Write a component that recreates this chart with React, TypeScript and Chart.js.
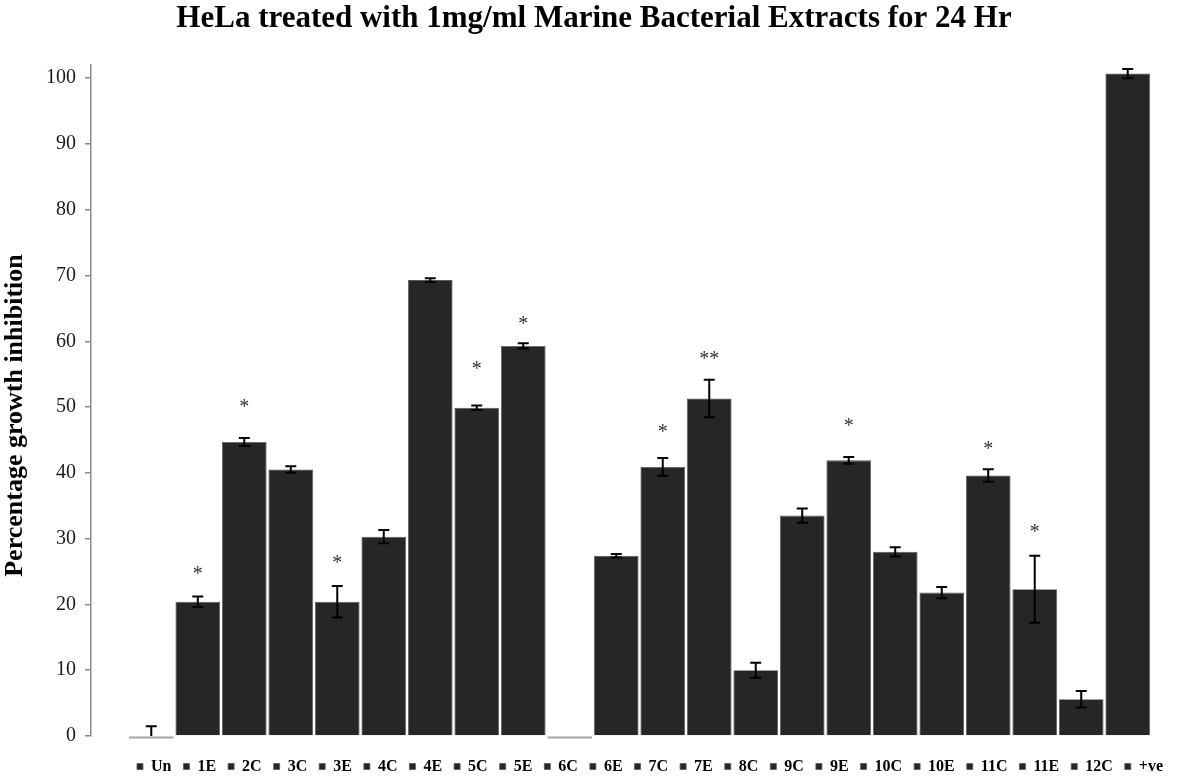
import React, { useEffect, useRef } from 'react';
import { Chart, registerables } from 'chart.js';

Chart.register(...registerables);

const FONT = "'Liberation Serif', 'Times New Roman', serif";

const categories = ['Un', '1E', '2C', '3C', '3E', '4C', '4E', '5C', '5E', '6C', '6E', '7C', '7E', '8C', '9C', '9E', '10C', '10E', '11C', '11E', '12C', '+ve'];
const values = [0, 20.4, 44.7, 40.5, 20.4, 30.3, 69.3, 49.9, 59.3, 0, 27.4, 40.9, 51.3, 10.0, 33.5, 41.9, 28.0, 21.8, 39.6, 22.3, 5.6, 100.7];
const errors = [1.5, 0.8, 0.6, 0.5, 2.4, 1.0, 0.3, 0.35, 0.4, 0, 0.25, 1.35, 2.85, 1.15, 1.1, 0.5, 0.7, 0.85, 0.95, 5.1, 1.25, 0.7];
const marks = ['', '*', '*', '', '*', '', '', '*', '*', '', '', '*', '**', '', '', '*', '', '', '*', '*', '', ''];
const markY = [0, 25.1, 50.5, 0, 26.7, 0, 0, 56.2, 63.1, 0, 0, 46.6, 57.7, 0, 0, 47.5, 0, 0, 44.1, 31.4, 0, 0];
const yMin = 0;
const yMax = 102;
const yStep = 10;
const yTitle = 'Percentage growth inhibition';
const chartTitle = 'HeLa treated with 1mg/ml Marine Bacterial Extracts for 24 Hr';

const BAR_COLOR = '#262626';

const extrasPlugin = {
  id: 'extras',
  afterLayout(chart: any) {
    const lg = chart.legend;
    if (lg) {
      lg.left += 56;
      lg.right += 56;
    }
  },
  afterDraw(chart: any) {
    const ctx = chart.ctx;
    const area = chart.chartArea;
    ctx.save();
    ctx.translate(15, (area.top + area.bottom) / 2 + 15);
    ctx.rotate(-Math.PI / 2);
    ctx.fillStyle = '#000';
    ctx.font = `bold 26px ${FONT}`;
    ctx.textAlign = 'center';
    ctx.textBaseline = 'middle';
    ctx.fillText(yTitle, 0, 0);
    ctx.restore();
  },
  afterDatasetsDraw(chart: any) {
    const ctx = chart.ctx;
    const y = chart.scales.y;
    const area = chart.chartArea;
    ctx.save();
    chart.data.datasets.forEach((ds: any, i: number) => {
      const bar = chart.getDatasetMeta(i).data[0];
      if (!bar) return;
      const v = ds.data[0];
      if (v === 0) {
        const p0 = y.getPixelForValue(0);
        ctx.strokeStyle = '#a6a6a6';
        ctx.lineWidth = 2;
        ctx.beginPath();
        ctx.moveTo(bar.x - bar.width / 2, p0 + 1.5);
        ctx.lineTo(bar.x + bar.width / 2, p0 + 1.5);
        ctx.stroke();
      }
    });
    ctx.beginPath();
    ctx.rect(area.left, area.top, area.right - area.left, area.bottom - area.top);
    ctx.clip();
    ctx.strokeStyle = '#000';
    ctx.lineWidth = 2;
    chart.data.datasets.forEach((ds: any, i: number) => {
      const bar = chart.getDatasetMeta(i).data[0];
      const e = errors[i];
      if (!bar || !e) return;
      const v = ds.data[0];
      const top = y.getPixelForValue(v + e);
      const bot = y.getPixelForValue(v - e);
      const hw = 5.5;
      ctx.beginPath();
      ctx.moveTo(bar.x, top);
      ctx.lineTo(bar.x, bot);
      ctx.moveTo(bar.x - hw, top);
      ctx.lineTo(bar.x + hw, top);
      ctx.moveTo(bar.x - hw, bot);
      ctx.lineTo(bar.x + hw, bot);
      ctx.stroke();
    });
    ctx.restore();
    ctx.save();
    ctx.fillStyle = '#333';
    ctx.font = `20px ${FONT}`;
    ctx.textAlign = 'center';
    ctx.textBaseline = 'middle';
    chart.data.datasets.forEach((ds: any, i: number) => {
      const bar = chart.getDatasetMeta(i).data[0];
      if (!bar || !marks[i]) return;
      ctx.fillText(marks[i], bar.x, y.getPixelForValue(markY[i]) + 3.5);
    });
    ctx.restore();
  },
};

export default function App() {
  const ref = useRef<HTMLCanvasElement | null>(null);
  useEffect(() => {
    document.body.style.margin = '0';
    if (!ref.current) return;
    const chart = new Chart(ref.current, {
      type: 'bar',
      data: {
        labels: [''],
        datasets: categories.map((c, i) => ({
          label: c,
          data: [values[i]],
          backgroundColor: BAR_COLOR,
          borderColor: '#5a5a5a',
          borderWidth: 0.8,
          categoryPercentage: 0.9325,
          barPercentage: 0.96,
        })),
      },
      options: {
        animation: false,
        responsive: true,
        maintainAspectRatio: false,
        layout: { padding: { left: 0, right: 12, top: 0, bottom: -7.5 } },
        plugins: {
          title: {
            display: true,
            text: chartTitle,
            color: '#000',
            font: { family: FONT, size: 31, weight: 'bold' },
            padding: { top: 0, bottom: 27.8 },
          },
          legend: {
            display: true,
            position: 'bottom',
            labels: {
              boxWidth: 6,
              boxHeight: 6,
              padding: 12,
              color: '#000',
              font: { family: FONT, size: 16, weight: 'bold' },
            },
          },
          tooltip: { enabled: false },
        },
        scales: {
          x: {
            display: true,
            ticks: { display: false },
            grid: { display: false },
            border: { display: false },
            afterFit: (s: any) => { s.height = 10.5; },
          },
          y: {
            min: yMin,
            max: yMax,
            afterFit: (s: any) => { s.width = 91; },
            ticks: {
              stepSize: yStep,
              includeBounds: false,
              padding: 9,
              color: '#1a1a1a',
              font: { family: FONT, size: 20 },
            },
            grid: {
              display: true,
              drawOnChartArea: false,
              drawTicks: true,
              tickLength: 6,
              color: '#8c8c8c',
              lineWidth: 1.5,
            },
            border: { display: true, color: '#8c8c8c', width: 1.5 },
            title: { display: false },
          },
        },
      },
      plugins: [extrasPlugin],
    } as any);
    return () => chart.destroy();
  }, []);
  return (
    <div style={{ width: 1200, height: 777, position: 'relative', background: '#fff' }}>
      <canvas ref={ref} />
    </div>
  );
}
